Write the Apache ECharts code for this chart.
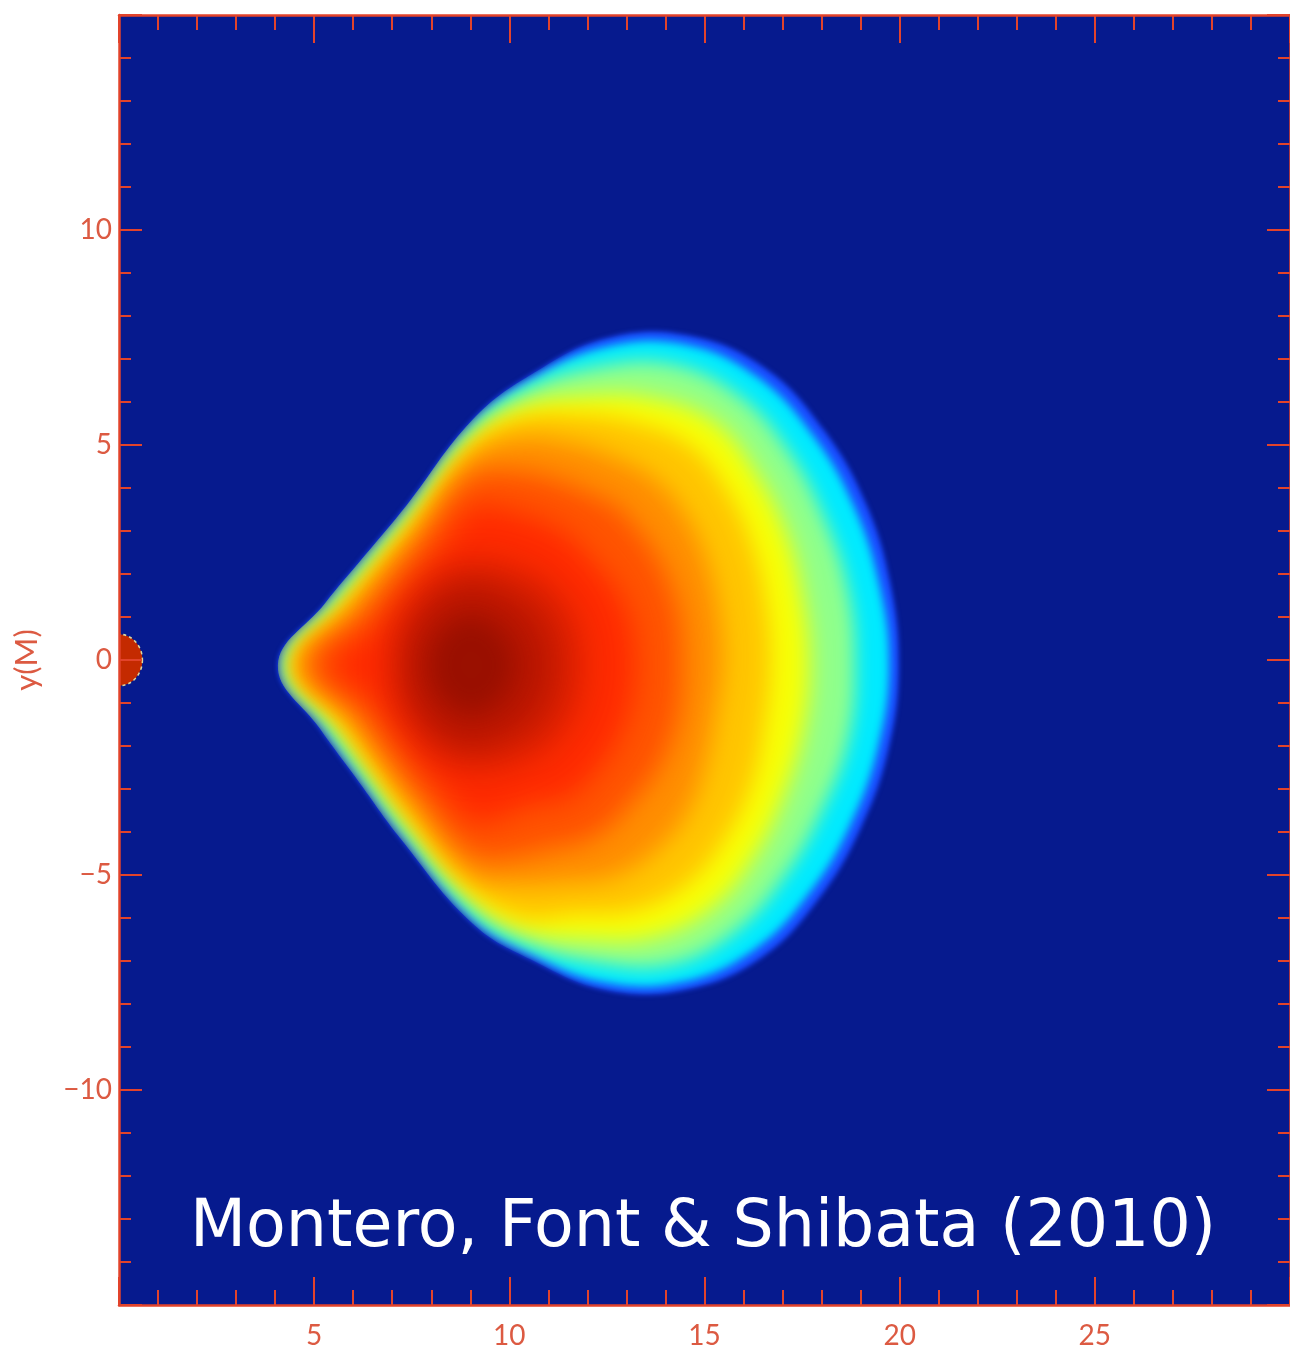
<!DOCTYPE html>
<html>
<head>
<meta charset="utf-8">
<script src="https://cdn.jsdelivr.net/npm/echarts@6/dist/echarts.min.js"></script>
<style>
html,body{margin:0;padding:0;background:#ffffff;}
#chart{width:1290px;height:1350px;}
</style>
</head>
<body>
<div id="chart"></div>
<script>
// ---------- tick labels ----------
const xTickValues = [5, 10, 15, 20, 25];
const xTickLabels = ['5', '10', '15', '20', '25'];
const yTickValues = [-10, -5, 0, 5, 10];
const yTickLabels = ['\u221210', '\u22125', '0', '5', '10'];
const yAxisTitle = 'y(M)';
const creditText = 'Montero, Font & Shibata (2010)';

// ---------- iso-density contours of the torus, [x(M), y(M)], outermost first ----------
const rhoLevel0 = [[19.98,-0.12],[19.75,1.83],[19.11,3.69],[18.04,5.37],[16.58,6.77],[14.64,7.54],[12.50,7.49],[10.51,6.61],[9.05,5.58],[7.37,3.60],[6.28,2.41],[5.27,1.31],[4.07,-0.12],[5.15,-1.60],[6.12,-2.80],[7.22,-4.16],[9.05,-6.12],[10.54,-6.96],[12.48,-7.68],[14.56,-7.66],[16.48,-6.91],[17.93,-5.55],[19.01,-3.90],[19.72,-2.06]];
const rhoLevel1 = [[19.73,-0.12],[19.47,1.78],[18.82,3.59],[17.78,5.22],[16.37,6.57],[14.50,7.34],[12.40,7.27],[10.48,6.47],[9.05,5.46],[7.41,3.49],[6.35,2.35],[5.36,1.28],[4.19,-0.12],[5.27,-1.55],[6.21,-2.72],[7.28,-4.03],[9.05,-5.98],[10.50,-6.80],[12.39,-7.49],[14.43,-7.49],[16.28,-6.73],[17.70,-5.40],[18.75,-3.80],[19.45,-2.01]];
const rhoLevel2 = [[18.86,-0.12],[18.68,1.63],[18.07,3.30],[17.17,4.84],[15.90,6.14],[14.16,6.88],[12.20,6.82],[10.44,6.29],[9.05,5.32],[7.44,3.43],[6.41,2.30],[5.43,1.25],[4.25,-0.12],[5.36,-1.52],[6.28,-2.65],[7.32,-3.95],[9.05,-5.79],[10.46,-6.60],[12.19,-7.04],[14.16,-7.08],[15.81,-6.30],[17.06,-5.02],[18.00,-3.51],[18.68,-1.87]];
const rhoLevel3 = [[17.70,-0.12],[17.53,1.42],[17.11,2.94],[16.34,4.34],[15.25,5.55],[13.60,6.11],[11.89,6.15],[10.37,5.92],[9.05,5.18],[7.48,3.34],[6.48,2.23],[5.55,1.21],[4.32,-0.12],[5.48,-1.47],[6.37,-2.57],[7.38,-3.82],[9.05,-5.59],[10.40,-6.32],[11.95,-6.52],[13.68,-6.46],[15.22,-5.76],[16.30,-4.55],[17.04,-3.15],[17.53,-1.66]];
const rhoLevel4 = [[16.68,-0.12],[16.58,1.25],[16.24,2.61],[15.60,3.89],[14.62,4.98],[13.18,5.53],[11.70,5.72],[10.31,5.65],[9.05,5.00],[7.54,3.21],[6.57,2.15],[5.67,1.16],[4.42,-0.12],[5.64,-1.41],[6.48,-2.47],[7.44,-3.67],[9.05,-5.35],[10.34,-6.00],[11.68,-5.92],[13.22,-5.82],[14.59,-5.18],[15.56,-4.10],[16.22,-2.84],[16.53,-1.48]];
const rhoLevel5 = [[15.46,-0.12],[15.38,1.03],[15.11,2.18],[14.59,3.27],[13.76,4.19],[12.61,4.75],[11.41,5.08],[10.20,5.17],[9.05,4.74],[7.62,3.04],[6.70,2.03],[5.83,1.10],[4.58,-0.12],[5.83,-1.34],[6.62,-2.34],[7.54,-3.45],[9.05,-5.03],[10.16,-5.23],[11.35,-5.19],[12.65,-5.05],[13.76,-4.43],[14.59,-3.51],[15.04,-2.39],[15.29,-1.25]];
const rhoLevel6 = [[14.44,-0.12],[14.10,1.80],[12.92,3.42],[11.99,3.90],[11.03,4.24],[10.03,4.40],[9.05,4.30],[7.74,2.78],[6.91,1.84],[6.11,0.99],[4.88,-0.12],[6.11,-1.23],[6.84,-2.14],[7.68,-3.15],[9.05,-4.56],[10.03,-4.61],[11.00,-4.42],[12.02,-4.18],[12.86,-3.61],[14.08,-2.03]];
const rhoLevel7 = [[13.25,-0.12],[12.93,1.35],[11.93,2.51],[11.34,3.01],[10.61,3.32],[9.84,3.53],[9.05,3.58],[7.97,2.27],[7.29,1.49],[6.63,0.80],[5.39,-0.12],[6.61,-1.05],[7.22,-1.80],[7.90,-2.66],[9.05,-3.79],[9.82,-3.66],[10.53,-3.39],[11.35,-3.27],[12.02,-2.83],[12.93,-1.59]];
const rhoLevel8 = [[11.85,-0.12],[11.68,0.88],[11.06,1.72],[10.58,1.97],[10.08,2.16],[9.57,2.27],[9.05,2.30],[8.10,1.99],[7.43,1.36],[7.03,0.65],[6.97,-0.12],[7.03,-0.89],[7.43,-1.60],[8.10,-2.23],[9.05,-2.54],[9.57,-2.51],[10.08,-2.40],[10.58,-2.21],[11.06,-1.96],[11.68,-1.12]];
const rhoLevel9 = [[11.03,-0.12],[10.88,0.58],[10.45,1.16],[10.14,1.37],[9.79,1.51],[9.44,1.66],[9.05,1.74],[8.31,1.51],[7.79,1.03],[7.48,0.48],[7.37,-0.12],[7.48,-0.72],[7.79,-1.27],[8.31,-1.75],[9.05,-1.98],[9.44,-1.90],[9.79,-1.75],[10.14,-1.61],[10.45,-1.40],[10.88,-0.81]];
const rhoLevel10 = [[10.12,-0.12],[10.04,0.25],[9.82,0.59],[9.67,0.73],[9.49,0.85],[9.28,0.93],[9.05,1.00],[8.60,0.87],[8.26,0.60],[8.04,0.26],[7.98,-0.12],[8.04,-0.50],[8.26,-0.84],[8.60,-1.11],[9.05,-1.24],[9.28,-1.17],[9.49,-1.09],[9.67,-0.97],[9.82,-0.83],[10.04,-0.49]];

// black hole at the origin: [x, y, radius] in M
const blackHole = [[0, 0, 0.6]];

// ---------- styles ----------
const contourLevels = [rhoLevel0, rhoLevel1, rhoLevel2, rhoLevel3, rhoLevel4, rhoLevel5,
                       rhoLevel6, rhoLevel7, rhoLevel8, rhoLevel9, rhoLevel10];
const levelColors = ['#1a4cff', '#00eaff', '#90ff8c', '#f8ff06', '#ffc600', '#ff8e00',
                     '#ff5400', '#ff2c00', '#d41e00', '#b61600', '#9a1000'];
const levelBlur = [5, 8, 18, 22, 22, 24, 26, 28, 36, 30, 24];
const OFF = 4000;
const axisRed = '#e2432b';
const labelRed = '#dc5a42';

const chart = echarts.init(document.getElementById('chart'), null, { renderer: 'canvas' });

function fmt(values, labels) {
  return function (v) {
    const i = values.indexOf(v);
    return i >= 0 ? labels[i] : '';
  };
}

const xAxisBase = {
  type: 'value', min: 0, max: 30, interval: 5, z: 10,
  axisLine: { show: true, onZero: false, lineStyle: { color: axisRed, width: 2.5 } },
  axisTick: { show: true, inside: true, length: 28, lineStyle: { color: axisRed, width: 2 } },
  minorTick: { show: true, splitNumber: 5, length: 15, lineStyle: { color: axisRed, width: 2 } },
  splitLine: { show: false }, minorSplitLine: { show: false }
};
const yAxisBase = {
  type: 'value', min: -15, max: 15, interval: 5, z: 10,
  axisLine: { show: true, onZero: false, lineStyle: { color: axisRed, width: 2.5 } },
  axisTick: { show: true, inside: true, length: 23, lineStyle: { color: axisRed, width: 2 } },
  minorTick: { show: true, splitNumber: 5, length: 12, lineStyle: { color: axisRed, width: 2 } },
  splitLine: { show: false }, minorSplitLine: { show: false }
};

const option = {
  animation: false,
  backgroundColor: '#ffffff',
  title: {
    text: creditText, left: 190, top: 1197, padding: 0, z: 20,
    textStyle: { color: '#ffffff', fontFamily: 'DejaVu Sans', fontSize: 65, fontWeight: 'normal' }
  },
  grid: { left: 119, top: 15, right: -9, bottom: 45, show: true, backgroundColor: '#061a8e', borderWidth: 0 },
  xAxis: [
    Object.assign({}, xAxisBase, {
      position: 'bottom',
      axisLabel: { show: true, margin: 17, color: labelRed, fontFamily: 'Lato', fontWeight: 400, fontSize: 28,
        showMinLabel: false, showMaxLabel: false, formatter: fmt(xTickValues, xTickLabels) }
    }),
    Object.assign({}, xAxisBase, { position: 'top', axisLabel: { show: false } })
  ],
  yAxis: [
    Object.assign({}, yAxisBase, {
      position: 'left',
      name: yAxisTitle, nameLocation: 'middle', nameGap: 77,
      nameTextStyle: { color: labelRed, fontFamily: 'Lato', fontWeight: 400, fontSize: 31 },
      axisLabel: { show: true, margin: 7, color: labelRed, fontFamily: 'Lato', fontWeight: 400, fontSize: 28,
        showMinLabel: false, showMaxLabel: false, formatter: fmt(yTickValues, yTickLabels) }
    }),
    Object.assign({}, yAxisBase, { position: 'right', axisLabel: { show: false } })
  ],
  series: [
    {
      type: 'custom', name: 'density', silent: true, clip: true, z: 2,
      xAxisIndex: 0, yAxisIndex: 0,
      data: contourLevels.map(function (c, i) { return [i, 0]; }),
      renderItem: function (params, api) {
        const k = api.value(0);
        const pts = contourLevels[k].map(function (p) { return api.coord(p); });
        const shifted = pts.map(function (p) { return [p[0] + OFF, p[1]]; });
        const blob = {
          type: 'polygon', z2: k,
          shape: { points: shifted, smooth: 0.4 },
          style: { fill: levelColors[k], shadowColor: levelColors[k], shadowBlur: levelBlur[k], shadowOffsetX: -OFF, shadowOffsetY: 0 }
        };
        if (k === 0) return blob;
        const edge = contourLevels[0].map(function (p) { return api.coord(p); });
        return {
          type: 'group', children: [blob],
          clipPath: { type: 'polygon', shape: { points: edge, smooth: 0.4 } }
        };
      }
    },
    {
      type: 'custom', name: 'black hole', silent: true, clip: true, z: 3,
      xAxisIndex: 0, yAxisIndex: 0,
      data: blackHole,
      renderItem: function (params, api) {
        const c = api.coord([api.value(0), api.value(1)]);
        const s = api.size([api.value(2), api.value(2)]);
        return {
          type: 'circle', x: c[0], y: c[1], scaleY: s[1] / s[0],
          shape: { cx: 0, cy: 0, r: s[0] },
          style: { fill: '#c42a00', stroke: '#dcd8a0', lineWidth: 1.5, lineDash: [3, 3] }
        };
      }
    }
  ]
};
chart.setOption(option);
</script>
</body>
</html>
